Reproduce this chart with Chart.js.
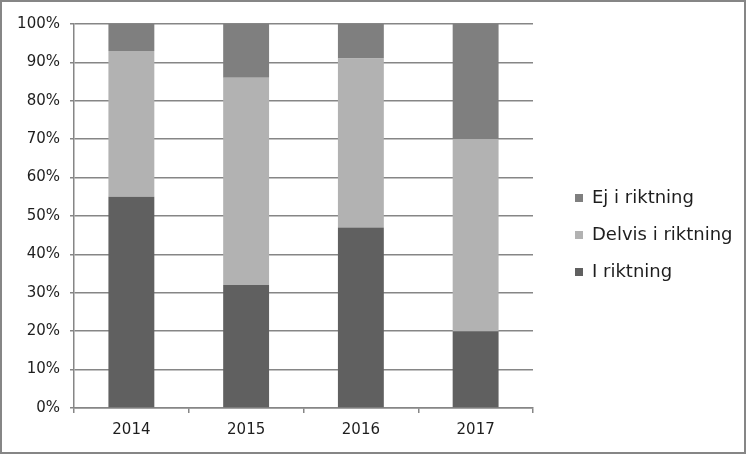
<!DOCTYPE html>
<html>
<head>
<meta charset="utf-8">
<script src="https://cdn.jsdelivr.net/npm/chart.js@4"></script>
<style>
  html, body { margin: 0; padding: 0; background: #fff; }
  #frame {
    width: 746px; height: 454px; box-sizing: border-box;
    border: 2px solid #868686; background: #fff;
  }
  #frame canvas { display: block; }
</style>
</head>
<body>
<div id="frame"><canvas id="chart" width="742" height="450"></canvas></div>
<script>
// chart data
const years = ['2014', '2015', '2016', '2017'];
const iRiktning = [55, 32, 47, 20];
const delvisRiktning = [38, 54, 44, 50];
const ejRiktning = [7, 14, 9, 30];
const yTicks = [0, 10, 20, 30, 40, 50, 60, 70, 80, 90, 100];

const GRID = '#868686';
const TEXT = '#1e1e1e';
const FONT = 'DejaVu Sans';

// fixed legend box, shifted so labels sit where the reference has them
const legendPlacer = {
    id: 'legendPlacer',
    beforeInit(chart) {
        const legend = chart.legend;
        const origFit = legend.fit;
        legend.fit = function () {
            origFit.call(this);
            this.width = 211;
        };
    },
    afterLayout(chart) {
        const legend = chart.legend;
        legend.left += 23;
        legend.right += 23;
        legend.top -= 3;
        legend.bottom -= 3;
    }
};

new Chart(document.getElementById('chart'), {
    type: 'bar',
    data: {
        labels: years,
        datasets: [
            { label: 'I riktning', data: iRiktning, backgroundColor: '#606060' },
            { label: 'Delvis i riktning', data: delvisRiktning, backgroundColor: '#b2b2b2' },
            { label: 'Ej i riktning', data: ejRiktning, backgroundColor: '#7f7f7f' }
        ]
    },
    options: {
        responsive: false,
        animation: false,
        layout: { padding: { top: 22, left: 0, right: 0, bottom: 0 } },
        datasets: {
            bar: { barPercentage: 0.4, categoryPercentage: 1, borderWidth: 0 }
        },
        plugins: {
            tooltip: { enabled: false },
            legend: {
                position: 'right',
                reverse: true,
                labels: {
                    boxWidth: 8,
                    boxHeight: 8,
                    padding: 19,
                    color: TEXT,
                    font: { family: FONT, size: 18 }
                }
            }
        },
        scales: {
            x: {
                stacked: true,
                grid: { display: true, drawOnChartArea: false, drawTicks: true, tickLength: 5, color: GRID, lineWidth: 1.5, offset: true },
                border: { display: true, color: GRID, width: 1.5 },
                ticks: { color: TEXT, font: { family: FONT, size: 15 }, padding: 8, maxRotation: 0 },
                afterFit(scale) { scale.height = 44; }
            },
            y: {
                stacked: true,
                min: 0,
                max: 100,
                afterBuildTicks(scale) { scale.ticks = yTicks.map(v => ({ value: v })); },
                grid: { color: GRID, lineWidth: 1.5, tickLength: 4 },
                border: { display: true, color: GRID, width: 1.5 },
                ticks: {
                    color: TEXT,
                    font: { family: FONT, size: 15 },
                    padding: 10,
                    callback: v => v + '%'
                },
                afterFit(scale) { scale.width = 72; }
            }
        }
    },
    plugins: [legendPlacer]
});
</script>
</body>
</html>
